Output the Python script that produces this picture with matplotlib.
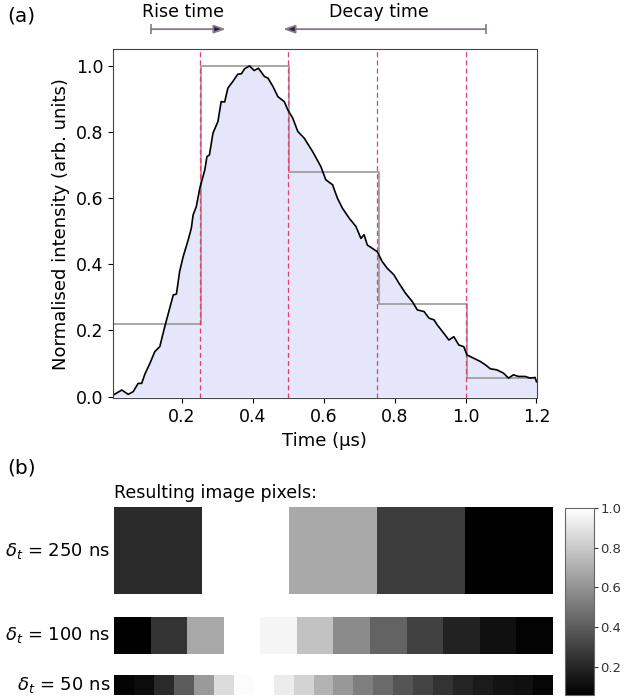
import numpy as np
import matplotlib
matplotlib.use("Agg")
import matplotlib.pyplot as plt

plt.rcParams['font.family'] = ['DejaVu Sans']

# trace (time in us, normalised intensity)
time_us = [0.007, 0.031, 0.049, 0.063, 0.077, 0.087, 0.096, 0.110, 0.124, 0.138,
           0.152, 0.166, 0.176, 0.185, 0.194, 0.204, 0.218, 0.227, 0.232, 0.241,
           0.251, 0.265, 0.271, 0.278, 0.288, 0.302, 0.311, 0.321, 0.330, 0.344,
           0.358, 0.368, 0.377, 0.391, 0.404, 0.416, 0.433, 0.443, 0.457, 0.471,
           0.489, 0.499, 0.513, 0.527, 0.545, 0.569, 0.592, 0.606, 0.625, 0.639,
           0.653, 0.672, 0.691, 0.705, 0.714, 0.723, 0.737, 0.751, 0.765, 0.779,
           0.798, 0.812, 0.831, 0.850, 0.864, 0.883, 0.897, 0.911, 0.920, 0.939,
           0.953, 0.967, 0.981, 0.995, 1.004, 1.023, 1.042, 1.056, 1.070, 1.088,
           1.107, 1.121, 1.135, 1.149, 1.168, 1.182, 1.196, 1.200]
intensity = [0.005, 0.020, 0.007, 0.015, 0.040, 0.040, 0.068, 0.100, 0.136, 0.151,
             0.211, 0.267, 0.307, 0.310, 0.378, 0.423, 0.473, 0.509, 0.549, 0.574,
             0.630, 0.685, 0.725, 0.730, 0.796, 0.831, 0.891, 0.890, 0.932, 0.952,
             0.974, 0.975, 0.990, 0.999, 0.985, 0.992, 0.967, 0.962, 0.937, 0.906,
             0.891, 0.866, 0.841, 0.801, 0.781, 0.740, 0.695, 0.655, 0.640, 0.599,
             0.569, 0.539, 0.514, 0.478, 0.489, 0.458, 0.448, 0.438, 0.408, 0.388,
             0.368, 0.343, 0.312, 0.287, 0.262, 0.257, 0.237, 0.232, 0.217, 0.191,
             0.171, 0.181, 0.156, 0.151, 0.126, 0.116, 0.106, 0.096, 0.084, 0.081,
             0.071, 0.056, 0.066, 0.061, 0.061, 0.056, 0.058, 0.045]

# 250 ns binning
bin_edges = [0.0, 0.255, 0.503, 0.755, 1.005, 1.2]
pixels_250 = [0.219, 1.0, 0.680, 0.279, 0.057]
bin_lines = [0.25, 0.5, 0.75, 1.0]

# grey levels of the finer pixel rows
pixels_100 = [0.0, 0.21, 0.66, 1.0, 0.96, 0.76, 0.545, 0.39, 0.26, 0.135, 0.065, 0.015]
pixels_50 = [0.016, 0.047, 0.165, 0.36, 0.604, 0.86, 0.988, 1.0, 0.925, 0.831, 0.702,
             0.596, 0.498, 0.42, 0.333, 0.267, 0.2, 0.145, 0.106, 0.078, 0.063, 0.024]

row_labels = [r'$\delta_t$ = 250 ns', r'$\delta_t$ = 100 ns', r'$\delta_t$ = 50 ns']

W, H = 624, 700
fig = plt.figure(figsize=(W / 100, H / 100), dpi=100)


def px_axes(l, t, r, b):
    return fig.add_axes([l / W, 1 - b / H, (r - l) / W, (b - t) / H])


# (a) trace
ax = px_axes(113.3, 49, 536.5, 398.3)
ax.fill_between(time_us, intensity, 0, color='lavender', lw=0)
ax.stairs(pixels_250, bin_edges, baseline=None, color='#9a9a9a', lw=1.2)
for x in bin_lines:
    ax.axvline(x, color='#e0406a', ls=(0, (4, 2.5)), lw=0.9)
ax.plot(time_us, intensity, color='black', lw=1.2)
ax.set_xlim(0.007, 1.2)
ax.set_ylim(-0.005, 1.05)
ax.set_xticks([0.2, 0.4, 0.6, 0.8, 1.0, 1.2])
ax.set_yticks([0.0, 0.2, 0.4, 0.6, 0.8, 1.0])
ax.tick_params(labelsize=12.5)
ax.set_xlabel('Time (µs)', fontsize=13)
ax.set_ylabel('Normalised intensity (arb. units)', fontsize=13)
for s in ax.spines.values():
    s.set_color('#444444')

# rise / decay arrows above the axes
arrow_y = 1.11
for tail, head in [(0.113, 0.324), (1.057, 0.486)]:
    ax.annotate('', xy=(head, arrow_y), xytext=(tail, arrow_y), annotation_clip=False,
                arrowprops=dict(arrowstyle='-|>,head_length=0.7,head_width=0.25',
                                fc='#2b1d38', ec='#85798f', lw=1.3,
                                shrinkA=0, shrinkB=0))
    ax.plot([tail], [arrow_y], marker='|', ms=7, color='#85798f', mew=1.2, clip_on=False)
ax.text(0.203, 1.162, 'Rise time', ha='center', va='center', fontsize=12.5)
ax.text(0.756, 1.162, 'Decay time', ha='center', va='center', fontsize=12.5)

fig.text(7 / W, 1 - 16 / H, '(a)', fontsize=14.5, va='center')
fig.text(7 / W, 1 - 468 / H, '(b)', fontsize=14.5, va='center')
fig.text(114 / W, 1 - 493 / H, 'Resulting image pixels:', fontsize=12.5, va='center')

# (b) pixel rows
rows = [(pixels_250, 507.3, 594.3), (pixels_100, 616.7, 654), (pixels_50, 675, 695)]
im_main = None
for (vals, top, bot), label in zip(rows, row_labels):
    rax = px_axes(113.5, top, 552.5, bot)
    if vals is pixels_250:
        im = rax.imshow([vals], cmap='gray', vmin=min(vals), vmax=max(vals),
                        aspect='auto', interpolation='nearest')
        im_main = im
    else:
        rax.imshow([vals], cmap='gray', vmin=0, vmax=1, aspect='auto',
                   interpolation='nearest')
    rax.axis('off')
    fig.text(110 / W, 1 - (top + bot) / 2 / H, label, fontsize=13, ha='right', va='center')

cax = px_axes(565, 508, 594, 695)
cb = fig.colorbar(im_main, cax=cax)
cb.set_ticks([0.2, 0.4, 0.6, 0.8, 1.0])
cb.ax.tick_params(labelsize=9.5, length=3, pad=1.5, colors='#333333')
cb.outline.set_edgecolor('#666666')

fig.savefig('out.png', dpi=100)
